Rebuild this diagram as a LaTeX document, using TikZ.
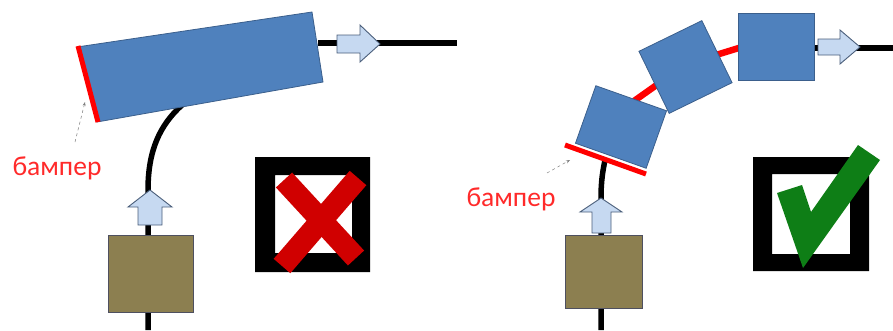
\documentclass[tikz,border=0pt]{standalone}
\usepackage{fontspec}
\setmainfont{Carlito}
\usetikzlibrary{arrows.meta}
\definecolor{boxblue}{HTML}{4F81BD}
\definecolor{boxblueline}{HTML}{3B5F8C}
\definecolor{arrowfill}{HTML}{C6D9F1}
\definecolor{arrowline}{HTML}{4A5E7A}
\definecolor{olive}{HTML}{8C7F50}
\definecolor{oliveline}{HTML}{4E5060}
\definecolor{xred}{HTML}{D00000}
\definecolor{okgreen}{HTML}{0E7E16}
\definecolor{labelred}{HTML}{FF2A2A}
\tikzset{
  track/.style={line width=5.5pt, black},
  blockfill/.style={fill=boxblue, draw=boxblueline, line width=0.8pt},
  fatarrow/.style={fill=arrowfill, draw=arrowline, line width=0.9pt, line join=miter},
  cargo/.style={fill=olive, draw=oliveline, line width=1pt},
  bumper/.style={line width=5pt, red},
  link/.style={line width=6.5pt, red},
  leader/.style={gray, line width=0.5pt, dashed, -{Stealth[length=4pt,width=3pt]}},
  lbl/.style={text=labelred, font=\fontsize{27.5}{29}\selectfont, inner sep=0pt},
  sqbox/.style={blockfill, inner sep=0pt, minimum width=75pt, minimum height=61pt},
}
\begin{document}
\begin{tikzpicture}[x=1pt,y=-1pt]
\useasboundingbox (0,0) rectangle (893,330);
% ===== left panel =====
\coordinate (Lbot) at (148,330);
\coordinate (Lturn) at (148,190);
\coordinate (Ltop) at (182,105);
\coordinate (Lout1) at (318,43);
\coordinate (Lout2) at (457,43);
\draw[track] (Lbot) -- (Lturn) .. controls (148,150) and (160,125) .. (Ltop);
\draw[track] (Lout1) -- (Lout2);
\fill[blockfill] (77,47) -- (312,12) -- (323,82) -- (97,122) -- cycle;
\draw[bumper] (78,46) -- (98,122);
\draw[fatarrow] (337,35) -- (360,35) -- (360,25) -- (380,44) -- (360,62) -- (360,53) -- (337,53) -- cycle;
\draw[fatarrow] (138,225) -- (138,207) -- (128,207) -- (150,190) -- (172,207) -- (162,207) -- (162,225) -- cycle;
\node[cargo, inner sep=0pt, minimum width=85pt, minimum height=77pt] (Lcargo) at (150.5,273.5) {};
\node[lbl] (Llabel) at (57,168) {бампер};
\coordinate (Lptr) at (85,102);
\draw[leader] (75,142) -- (Lptr);
% cross box
\fill[black, even odd rule] (255,157) rectangle (370,272) (275,175) rectangle (352,253);
\draw[xred, line width=22pt] (284,180) -- (356,258);
\draw[xred, line width=22pt] (358,178) -- (282,266);
% ===== right panel =====
\coordinate (Rbot) at (601,330);
\coordinate (Rturn) at (601,198);
\coordinate (Rtop) at (605,160);
\draw[track] (Rbot) -- (Rturn) .. controls (601,180) and (603,170) .. (Rtop);
\coordinate (Rout1) at (812,48);
\coordinate (Rout2) at (893,48);
\draw[track] (Rout1) -- (Rout2);
\draw[link] (634,101) -- (658,84);
\draw[link] (716,55) -- (742,47);
\node[sqbox, rotate=-19.5] (S1) at (621,127) {};
\node[sqbox, minimum width=70pt, minimum height=69pt, rotate=26] (S2) at (685.5,67) {};
\node[sqbox, minimum width=76pt, minimum height=67pt] (S3) at (776,46.5) {};
\draw[bumper] (565,145) -- (646,174);
\draw[fatarrow] (818,39) -- (840,39) -- (840,30) -- (860,47) -- (840,64) -- (840,55) -- (818,55) -- cycle;
\draw[fatarrow] (592,233) -- (592,212) -- (580,212) -- (601,198) -- (622,212) -- (611,212) -- (611,233) -- cycle;
\node[cargo, inner sep=0pt, minimum width=77pt, minimum height=73pt] (Rcargo) at (603.5,271.5) {};
\node[lbl] (Rlabel) at (511,199) {бампер};
\coordinate (Rptr) at (570,160);
\draw[leader] (547,173) -- (Rptr);
% check box
\fill[black, even odd rule] (753,157) rectangle (869,271) (772,174) rectangle (850,254);
\fill[okgreen] (777,193) -- (802,185) -- (811,212) -- (858,145) -- (880,160) -- (803,268) -- cycle;
\end{tikzpicture}
\end{document}
